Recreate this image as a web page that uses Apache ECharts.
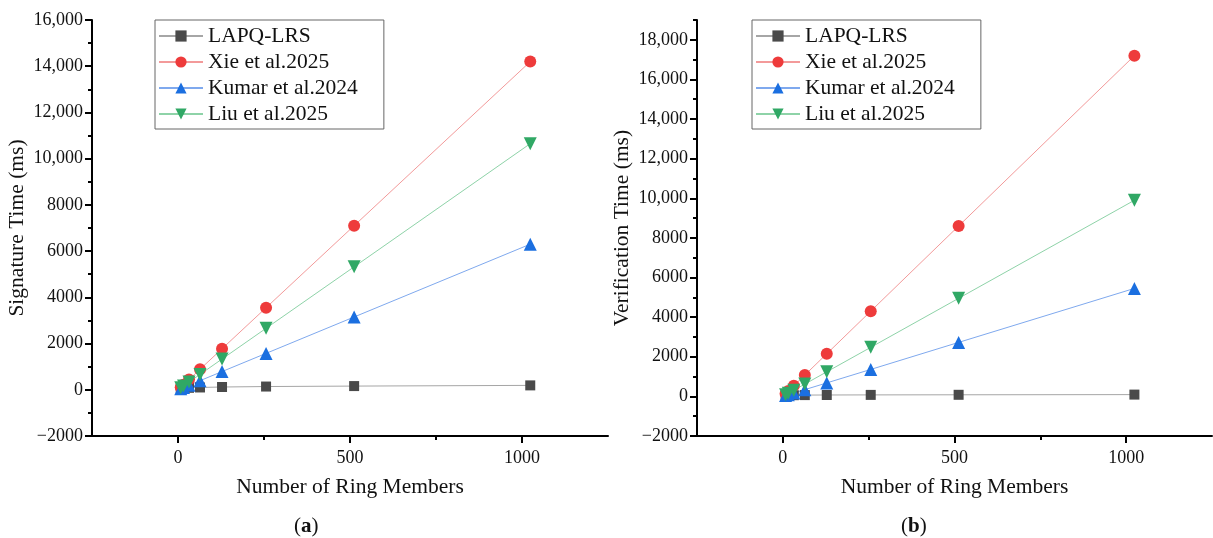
<!DOCTYPE html>
<html>
<head>
<meta charset="utf-8">
<script src="https://cdn.jsdelivr.net/npm/echarts@6/dist/echarts.min.js"></script>
<style>
  html, body { margin: 0; padding: 0; background: #fff; }
  #chart { width: 1213px; height: 538px; }
</style>
</head>
<body>
<div id="chart"></div>
<script>
// ring sizes (x axis)
const ringMembers = [8, 16, 32, 64, 128, 256, 512, 1024];

// (a) signature time, ms
const sigLapq = [60, 70, 85, 100, 120, 140, 160, 190];
const sigXie = [111, 222, 444, 888, 1775, 3550, 7100, 14200];
const sigKumar = [49, 98, 197, 394, 788, 1575, 3150, 6300];
const sigLiu = [83, 166, 332, 665, 1330, 2660, 5320, 10650];

// (b) verification time, ms
const verLapq = [50, 55, 60, 65, 70, 75, 80, 90];
const verXie = [134, 269, 538, 1075, 2150, 4300, 8600, 17200];
const verKumar = [43, 85, 170, 340, 680, 1360, 2725, 5450];
const verLiu = [77, 155, 310, 620, 1240, 2475, 4950, 9900];

// tick values
const xMajor = [0, 500, 1000];
const xMinor = [250, 750];
const yMajorA = [-2000, 0, 2000, 4000, 6000, 8000, 10000, 12000, 14000, 16000];
const yMinorA = [-1000, 1000, 3000, 5000, 7000, 9000, 11000, 13000, 15000];
const yMajorB = [-2000, 0, 2000, 4000, 6000, 8000, 10000, 12000, 14000, 16000, 18000];
const yMinorB = [-1000, 1000, 3000, 5000, 7000, 9000, 11000, 13000, 15000, 17000, 19000];

const seriesNames = ["LAPQ-LRS", "Xie et al.2025", "Kumar et al.2024", "Liu et al.2025"];

const font = "Liberation Serif";
const styles = [
  { symbol: "rect", size: 10, rotate: 0, color: "#4a4a4a", line: "#a6a6a6" },
  { symbol: "circle", size: 12, rotate: 0, color: "#ee3b3b", line: "#f39a9a" },
  { symbol: "triangle", size: 13, rotate: 0, color: "#1b6fe0", line: "#7fa9ee" },
  { symbol: "triangle", size: 13, rotate: 180, color: "#30a865", line: "#8ed3a8" },
];

// Origin style: thousands separator only from 10,000 up
const fmt = (v) => {
  const s = Math.abs(v) >= 10000 ? Math.abs(v).toLocaleString("en-US") : String(Math.abs(v));
  return v < 0 ? "\u2212" + s : s;
};

const chart = echarts.init(document.getElementById("chart"));

function xAxes(gridIndex) {
  return [
    {
      type: "value", gridIndex, position: "bottom", min: -250, max: 1250,
      name: "Number of Ring Members", nameLocation: "middle", nameGap: 40,
      nameTextStyle: { fontFamily: font, fontSize: 21.5, color: "#111" },
      axisLine: { onZero: false, lineStyle: { color: "#000", width: 2 } },
      axisTick: { customValues: xMajor, length: 7, lineStyle: { color: "#000", width: 2 } },
      axisLabel: { customValues: xMajor, margin: 13, fontFamily: font, fontSize: 18, color: "#111", formatter: (v) => String(v) },
      splitLine: { show: false },
    },
    {
      type: "value", gridIndex, position: "bottom", min: -250, max: 1250,
      axisLine: { show: false, onZero: false },
      axisTick: { customValues: xMinor, length: 4, lineStyle: { color: "#000", width: 2 } },
      axisLabel: { show: false },
      splitLine: { show: false },
    },
  ];
}

function yAxes(gridIndex, max, major, minor, name) {
  return [
    {
      type: "value", gridIndex, position: "left", min: -2000, max,
      name, nameLocation: "middle", nameGap: 64,
      nameTextStyle: { fontFamily: font, fontSize: 21.5, color: "#111" },
      axisLine: { onZero: false, lineStyle: { color: "#000", width: 2 } },
      axisTick: { customValues: major, length: 7, lineStyle: { color: "#000", width: 2 } },
      axisLabel: { customValues: major, margin: 9, fontFamily: font, fontSize: 18, color: "#111", formatter: fmt },
      splitLine: { show: false },
    },
    {
      type: "value", gridIndex, position: "left", min: -2000, max,
      axisLine: { show: false, onZero: false },
      axisTick: { customValues: minor, length: 4, lineStyle: { color: "#000", width: 2 } },
      axisLabel: { show: false },
      splitLine: { show: false },
    },
  ];
}

function makeSeries(sets, axisOffset) {
  return sets.map((vals, i) => ({
    name: seriesNames[i],
    type: "line",
    xAxisIndex: axisOffset,
    yAxisIndex: axisOffset,
    data: ringMembers.map((x, j) => [x, vals[j]]),
    symbol: styles[i].symbol,
    symbolSize: styles[i].size,
    symbolRotate: styles[i].rotate,
    showAllSymbol: true,
    itemStyle: { color: styles[i].color },
    lineStyle: { color: styles[i].line, width: 1 },
    emphasis: { disabled: true },
  }));
}

function legend(left) {
  return {
    data: seriesNames,
    orient: "vertical",
    left, top: 20,
    padding: [5, 26, 4, 3],
    itemWidth: 44, itemHeight: 14, itemGap: 4,
    borderColor: "#666", borderWidth: 1,
    textStyle: { fontFamily: font, fontSize: 21.5, color: "#111" },
  };
}

const subRich = {
  n: { fontFamily: font, fontSize: 21, fontWeight: "normal", color: "#111" },
  b: { fontFamily: font, fontSize: 21, fontWeight: "bold", color: "#111" },
};

const option = {
  backgroundColor: "#fff",
  animation: false,
  title: [
    { text: "{n|(}{b|a}{n|)}", left: 289, top: 511, textStyle: { fontWeight: "normal", rich: subRich } },
    { text: "{n|(}{b|b}{n|)}", left: 896, top: 511, textStyle: { fontWeight: "normal", rich: subRich } },
  ],
  legend: [legend(155), legend(752)],
  grid: [
    { left: 92, top: 20, width: 516, height: 416 },
    { left: 697, top: 20, width: 515, height: 416 },
  ],
  xAxis: [...xAxes(0), ...xAxes(1)],
  yAxis: [
    ...yAxes(0, 16000, yMajorA, yMinorA, "Signature Time (ms)"),
    ...yAxes(1, 19000, yMajorB, yMinorB, "Verification Time (ms)"),
  ],
  series: [
    ...makeSeries([sigLapq, sigXie, sigKumar, sigLiu], 0),
    ...makeSeries([verLapq, verXie, verKumar, verLiu], 2),
  ],
};

chart.setOption(option);
</script>
</body>
</html>
